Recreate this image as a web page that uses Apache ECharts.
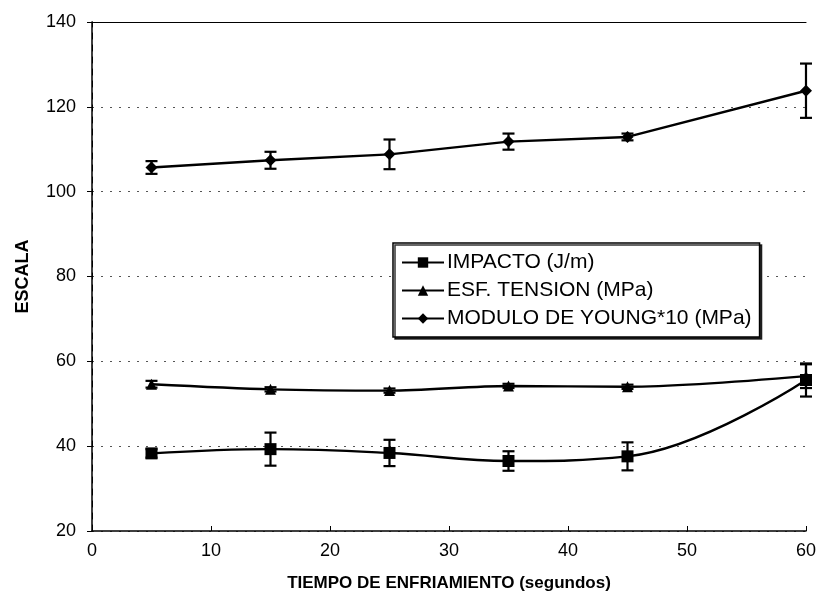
<!DOCTYPE html>
<html>
<head>
<meta charset="utf-8">
<script src="https://cdn.jsdelivr.net/npm/echarts@6/dist/echarts.min.js"></script>
<style>
  html, body { margin: 0; padding: 0; background: #fff; }
  #chart { width: 819px; height: 604px; }
</style>
</head>
<body>
<div id="chart"></div>
<script>
// Cooling time (seconds)
const tiempos = [5, 15, 25, 35, 45, 60];

// Impact strength (J/m) and its spread
const impacto = [38.3, 39.3, 38.4, 36.5, 37.6, 55.6];
const impactoErr = [1.0, 3.9, 3.1, 2.3, 3.3, 3.9];

// Tensile stress (MPa) and its spread
const tension = [54.6, 53.4, 53.1, 54.2, 54.0, 56.5];
const tensionErr = [0.8, 0.5, 0.5, 0.5, 0.5, 2.8];

// Young's modulus x10 (MPa) and its spread
const young = [105.7, 107.4, 108.8, 111.8, 112.9, 123.8];
const youngErr = [1.5, 2.0, 3.5, 1.9, 0.8, 6.4];

const yTicks = [20, 40, 60, 80, 100, 120, 140];
const xTicks = [0, 10, 20, 30, 40, 50, 60];

const nombres = ['IMPACTO (J/m)', 'ESF. TENSION (MPa)', 'MODULO DE YOUNG*10 (MPa)'];

const FONT = '"Liberation Sans", Arial, sans-serif';

function pares(ys) {
  return tiempos.map((t, i) => [t, ys[i]]);
}

// I-shaped error bars drawn in data coordinates
function barrasError(ys, errs) {
  return {
    type: 'custom',
    silent: true,
    z: 3,
    data: tiempos.map((t, i) => [t, ys[i] - errs[i], ys[i] + errs[i]]),
    renderItem: function (params, api) {
      const x = api.value(0);
      const lo = api.coord([x, api.value(1)]);
      const hi = api.coord([x, api.value(2)]);
      const w = 6;
      const style = { stroke: '#000', lineWidth: 2.2 };
      return {
        type: 'group',
        children: [
          { type: 'line', shape: { x1: lo[0], y1: lo[1], x2: hi[0], y2: hi[1] }, style },
          { type: 'line', shape: { x1: lo[0] - w, y1: lo[1], x2: lo[0] + w, y2: lo[1] }, style },
          { type: 'line', shape: { x1: hi[0] - w, y1: hi[1], x2: hi[0] + w, y2: hi[1] }, style }
        ]
      };
    }
  };
}

function serieLinea(name, ys, symbol, size, smooth) {
  return {
    name: name,
    type: 'line',
    data: pares(ys),
    symbol: symbol,
    symbolSize: size,
    smooth: smooth,
    z: 4,
    lineStyle: { color: '#000', width: 2.4 },
    itemStyle: { color: '#000' }
  };
}

const chart = echarts.init(document.getElementById('chart'), null, { renderer: 'canvas' });

chart.setOption({
  animation: false,
  backgroundColor: '#fff',
  textStyle: { fontFamily: FONT, color: '#000' },
  grid: { left: 92, right: 13, top: 22, bottom: 73 },
  legend: {
    data: nombres,
    orient: 'vertical',
    left: 393,
    top: 243,
    padding: [9, 8, 8, 8],
    itemGap: 7,
    itemWidth: 42,
    itemHeight: 13,
    backgroundColor: '#fff',
    borderColor: '#000',
    borderWidth: 1.5,
    shadowColor: 'rgba(0,0,0,0.8)',
    shadowOffsetX: 2,
    shadowOffsetY: 2,
    textStyle: { fontFamily: FONT, fontSize: 21, color: '#000', padding: [0, 0, 0, -2] }
  },
  xAxis: [
    {
      type: 'value',
      min: xTicks[0],
      max: xTicks[xTicks.length - 1],
      interval: 10,
      name: 'TIEMPO DE ENFRIAMIENTO (segundos)',
      nameLocation: 'middle',
      nameGap: 44,
      nameTextStyle: { fontFamily: FONT, fontSize: 17, fontWeight: 'bold', color: '#000' },
      axisLine: { lineStyle: { color: '#000', width: 1.5 } },
      axisTick: { show: true, inside: true, length: 5, lineStyle: { color: '#000', width: 1 } },
      axisLabel: { fontFamily: FONT, fontSize: 18, color: '#000', margin: 11 },
      splitLine: { show: false }
    },
    {
      type: 'value',
      position: 'top',
      min: xTicks[0],
      max: xTicks[xTicks.length - 1],
      interval: 10,
      axisLine: { show: true, lineStyle: { color: '#000', width: 1.2 } },
      axisTick: { show: false },
      axisLabel: { show: false },
      splitLine: { show: false }
    }
  ],
  yAxis: [
    {
      type: 'value',
      min: yTicks[0],
      max: yTicks[yTicks.length - 1],
      interval: 20,
      name: 'ESCALA',
      nameLocation: 'middle',
      nameGap: 60,
      nameTextStyle: { fontFamily: FONT, fontSize: 18, fontWeight: 'bold', color: '#000' },
      axisLine: { show: true, lineStyle: { color: '#000', width: 1.5 } },
      axisTick: { show: true, length: 5, lineStyle: { color: '#000', width: 1 } },
      axisLabel: { fontFamily: FONT, fontSize: 18, color: '#000', margin: 16 },
      splitLine: { show: true, lineStyle: { color: '#555', width: 1, type: [2, 7] } }
    },
    {
      type: 'value',
      position: 'right',
      min: yTicks[0],
      max: yTicks[yTicks.length - 1],
      interval: 20,
      axisLine: { show: true, lineStyle: { color: '#000', width: 1, type: [6, 6] } },
      axisTick: { show: false },
      axisLabel: { show: false },
      splitLine: { show: false }
    }
  ],
  series: [
    serieLinea(nombres[0], impacto, 'rect', 12, 0.4),
    serieLinea(nombres[1], tension, 'triangle', 11, 0.3),
    serieLinea(nombres[2], young, 'diamond', 12, false),
    barrasError(impacto, impactoErr),
    barrasError(tension, tensionErr),
    barrasError(young, youngErr)
  ]
});
</script>
</body>
</html>
